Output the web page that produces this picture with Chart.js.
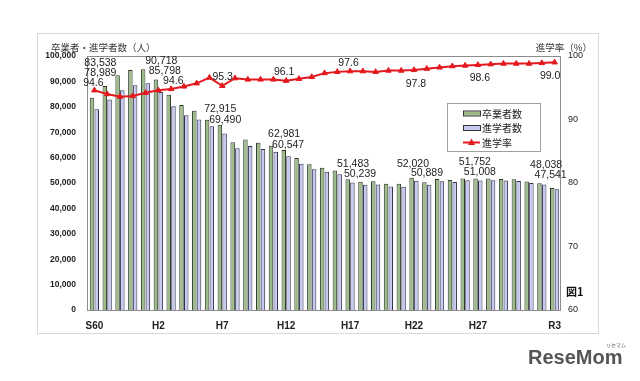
<!DOCTYPE html>
<html>
<head>
<meta charset="utf-8">
<script src="https://cdn.jsdelivr.net/npm/chart.js@4/dist/chart.umd.min.js"></script>
<style>
  html, body { margin: 0; padding: 0; background: #fff; }
  #wrap { width: 640px; height: 381px; }
</style>
</head>
<body>
<div id="wrap"><canvas id="chart" width="640" height="381"></canvas></div>
<script>
// S60 (1985) .. R3 (2021)
const years = ["S60", "S61", "S62", "S63",
  "H1", "H2", "H3", "H4", "H5", "H6", "H7", "H8", "H9", "H10",
  "H11", "H12", "H13", "H14", "H15", "H16", "H17", "H18", "H19", "H20",
  "H21", "H22", "H23", "H24", "H25", "H26", "H27", "H28", "H29", "H30",
  "R1", "R2", "R3"];
const shownTicks = ["S60", "H2", "H7", "H12", "H17", "H22", "H27", "R3"];

// 卒業者数
const graduates = [83538, 88200, 92400, 94500, 94800, 90718, 84700, 80700, 78400, 74900,
  72915, 66000, 67100, 65800, 64700, 62981, 59800, 57400, 56000, 54900,
  51483, 50500, 50700, 49700, 49700, 52020, 50300, 51600, 51200, 51800,
  51752, 51800, 51600, 51500, 50600, 49900, 48038];
// 進学者数
const enrolled = [78989, 82900, 86500, 88500, 89300, 85798, 80200, 76700, 75000, 72300,
  69490, 63700, 64600, 63400, 62300, 60547, 57600, 55400, 54400, 53400,
  50239, 49300, 49400, 48600, 48500, 50889, 49300, 50700, 50400, 51100,
  51008, 51100, 51000, 50800, 50000, 49400, 47541];
// 進学率 (%)
const rate = [94.6, 94.0, 93.6, 93.7, 94.2, 94.6, 94.8, 95.2, 95.7, 96.6,
  95.3, 96.5, 96.3, 96.3, 96.3, 96.1, 96.4, 96.7, 97.3, 97.5,
  97.6, 97.6, 97.5, 97.7, 97.7, 97.8, 98.0, 98.2, 98.4, 98.5,
  98.6, 98.7, 98.8, 98.8, 98.8, 98.9, 99.0];

const labelIdx = [0, 5, 10, 15, 20, 25, 30, 36];

const GREEN = "#9dba8b";
const BLUE = "#c7c9f0";
const RED = "#e3191e";
const NUM_FONT = "'Liberation Sans', Arial, sans-serif";
const JP_FONT = "'Noto Sans CJK JP', sans-serif";

// label offsets: [gradDx, gradDy, enrDx, enrDy, rateDx, rateDy]
const labelOffsets = {
  0: [6, -35, 6, -24.5, -1, -7],
  5: [3, -18.5, 6.5, -8, 15, -9],
  10: [-2, -16, 3, -5, 0.5, -8.5],
  15: [-2, -16, 2, -4.5, -2, -8.5],
  20: [3, -15, 10, -5, -1.5, -8.5],
  25: [-1, -14, 13, -5, 2, 14],
  30: [-3, -16.5, 2, -6.5, 2, 13],
  36: [-8.5, -22.5, -4, -12.5, -4.5, 13.5]
};

const fmt = (v) => v.toLocaleString("en-US");

const decorPlugin = {
  id: "decor",
  beforeDraw(chart) {
    const ctx = chart.ctx;
    ctx.save();
    ctx.fillStyle = "#fff";
    ctx.fillRect(0, 0, chart.width, chart.height);
    ctx.strokeStyle = "#d8d8d8";
    ctx.lineWidth = 1;
    ctx.strokeRect(37.5, 33.5, 561, 300);
    ctx.restore();
  },
  afterDraw(chart) {
    const ctx = chart.ctx;
    const a = chart.chartArea;
    const xs = chart.scales.x;
    const ys = chart.scales.y;
    const y2 = chart.scales.y2;
    ctx.save();

    // plot border
    ctx.strokeStyle = "#8c8c8c";
    ctx.lineWidth = 1;
    ctx.strokeRect(Math.round(a.left) - 0.5, Math.round(a.top) + 0.5,
      Math.round(a.right - a.left), Math.round(a.bottom - a.top));

    // axis titles
    ctx.fillStyle = "#333";
    ctx.font = "9.5px " + JP_FONT;
    ctx.textBaseline = "middle";
    ctx.textAlign = "left";
    ctx.fillText("卒業者・進学者数（人）", 51, 47);
    ctx.textAlign = "right";
    ctx.fillText("進学率（%）", 592, 47);

    // 図1
    ctx.fillStyle = "#111";
    ctx.font = "bold 11px " + JP_FONT;
    ctx.textAlign = "left";
    ctx.fillText("図1", 566, 292);

    // data labels
    ctx.fillStyle = "#222";
    ctx.font = "10.5px " + NUM_FONT;
    ctx.textAlign = "center";
    labelIdx.forEach((i) => {
      const o = labelOffsets[i];
      const x = xs.getPixelForValue(i);
      const gTop = ys.getPixelForValue(graduates[i]);
      const rY = y2.getPixelForValue(rate[i]);
      ctx.fillText(fmt(graduates[i]), x + o[0], gTop + o[1]);
      ctx.fillText(fmt(enrolled[i]), x + o[2], gTop + o[3]);
      ctx.fillText(rate[i].toFixed(1), x + o[4], rY + o[5]);
    });

    // legend
    const lx = 447, ly = 103;
    ctx.fillStyle = "#fff";
    ctx.fillRect(lx, ly, 93, 48);
    ctx.strokeStyle = "#a0a0a0";
    ctx.strokeRect(lx + 0.5, ly + 0.5, 93, 48);
    const items = chart.data.datasets;
    ctx.font = "10px " + JP_FONT;
    ctx.textAlign = "left";
    items.forEach((ds, k) => {
      const cy = ly + 10.5 + k * 14.5;
      if (ds.type === "line") {
        ctx.strokeStyle = ds.borderColor;
        ctx.lineWidth = 2;
        ctx.beginPath();
        ctx.moveTo(463, cy);
        ctx.lineTo(480, cy);
        ctx.stroke();
        ctx.fillStyle = ds.borderColor;
        ctx.beginPath();
        ctx.moveTo(471.5, cy - 4);
        ctx.lineTo(475, cy + 2.5);
        ctx.lineTo(468, cy + 2.5);
        ctx.closePath();
        ctx.fill();
      } else {
        ctx.fillStyle = ds.backgroundColor;
        ctx.fillRect(463, cy - 2, 17, 4);
        ctx.strokeStyle = "#333";
        ctx.lineWidth = 1;
        ctx.strokeRect(463.5, cy - 2.5, 17, 5);
      }
      ctx.fillStyle = "#222";
      ctx.fillText(ds.label, 482, cy + 0.5);
    });

    // watermark
    ctx.fillStyle = "#555";
    ctx.font = "bold 20px " + NUM_FONT;
    ctx.textAlign = "left";
    ctx.fillText("ReseMom", 528, 358);
    ctx.font = "5px " + JP_FONT;
    ctx.fillText("リセマム", 606, 345);

    ctx.restore();
  }
};

new Chart(document.getElementById("chart"), {
  type: "bar",
  data: {
    labels: years,
    datasets: [
      {
        label: "卒業者数",
        data: graduates,
        backgroundColor: GREEN,
        borderColor: "#2f3a2a",
        borderWidth: 1,
        barPercentage: 0.95,
        categoryPercentage: 0.74,
        yAxisID: "y",
        order: 2
      },
      {
        label: "進学者数",
        data: enrolled,
        backgroundColor: BLUE,
        borderColor: "#30304a",
        borderWidth: 1,
        barPercentage: 0.95,
        categoryPercentage: 0.74,
        yAxisID: "y",
        order: 2
      },
      {
        type: "line",
        label: "進学率",
        data: rate,
        borderColor: RED,
        backgroundColor: RED,
        borderWidth: 2,
        pointStyle: "triangle",
        pointRadius: 3.2,
        pointBorderWidth: 1,
        tension: 0,
        yAxisID: "y2",
        order: 0
      }
    ]
  },
  options: {
    responsive: false,
    animation: false,
    devicePixelRatio: 1,
    layout: { padding: { top: 56, left: 0, right: 0, bottom: 0 } },
    plugins: {
      legend: { display: false },
      tooltip: { enabled: false }
    },
    scales: {
      x: {
        grid: { display: false, drawTicks: false },
        border: { display: false },
        ticks: {
          autoSkip: false,
          maxRotation: 0,
          padding: 10,
          color: "#222",
          font: { size: 10, weight: "bold", family: NUM_FONT },
          callback: function (value) {
            const lab = this.getLabelForValue(value);
            return shownTicks.includes(lab) ? lab : "";
          }
        },
        afterFit(scale) { scale.height = 71; }
      },
      y: {
        position: "left",
        min: 0,
        max: 100000,
        grid: { display: false, drawTicks: false },
        border: { display: false },
        ticks: {
          stepSize: 10000,
          padding: 12,
          color: "#222",
          font: { size: 8.5, weight: "bold", family: NUM_FONT },
          callback: (v) => fmt(v)
        },
        afterFit(scale) { scale.width = 88; }
      },
      y2: {
        position: "right",
        min: 60,
        max: 100,
        grid: { display: false, drawTicks: false },
        border: { display: false },
        ticks: {
          stepSize: 10,
          padding: 7,
          color: "#222",
          font: { size: 9, family: NUM_FONT }
        },
        afterFit(scale) { scale.width = 79; }
      }
    }
  },
  plugins: [decorPlugin]
});
</script>
</body>
</html>
